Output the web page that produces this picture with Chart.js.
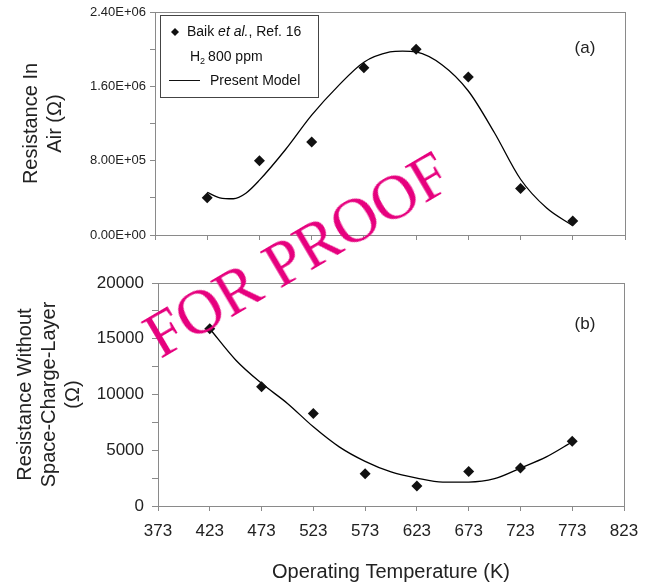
<!DOCTYPE html>
<html>
<head>
<meta charset="utf-8">
<script src="https://cdn.jsdelivr.net/npm/chart.js@4.4.1/dist/chart.umd.min.js"></script>
<style>
  html, body { margin: 0; padding: 0; background: #fff; }
  #wrap { position: relative; width: 656px; height: 588px; overflow: hidden; }
  #topChart { position: absolute; left: 0; top: 0; }
  #bottomChart { position: absolute; left: 0; top: 250px; }
  #stamp {
    position: absolute; left: 161px; top: 307px;
    font-family: 'Liberation Serif', 'Times New Roman', serif;
    font-size: 63px; line-height: 1; color: #e6007e; white-space: nowrap;
    transform-origin: 0 53px; transform: rotate(-30.5deg);
    pointer-events: none;
  }
</style>
</head>
<body>
<div id="wrap">
  <canvas id="topChart" width="656" height="250"></canvas>
  <canvas id="bottomChart" width="656" height="338"></canvas>
  <div id="stamp">FOR PROOF</div>
</div>
<script>
// podaci
const xTicks = [373, 423, 473, 523, 573, 623, 673, 723, 773, 823];
const measuredTemps = [423, 473, 523, 573, 623, 673, 723, 773];
const airMeasured = [4.0e5, 8.0e5, 1.0e6, 1.8e6, 2.0e6, 1.7e6, 5.0e5, 1.5e5];
const airModelTemps = [423, 435, 448, 460, 473, 498, 523, 548, 573, 598, 610, 623, 648, 673, 698, 723, 748, 773];
const airModel = [4.6e5, 4.0e5, 3.9e5, 4.5e5, 5.9e5, 9.2e5, 1.29e6, 1.6e6, 1.86e6, 1.97e6, 1.98e6, 1.97e6, 1.83e6, 1.55e6, 1.1e6, 6.0e5, 2.9e5, 1.0e5];
const bulkMeasured = [15900, 10700, 8300, 2900, 1800, 3100, 3400, 5800];
const bulkModelTemps = [423, 448, 473, 498, 523, 548, 573, 598, 623, 648, 673, 698, 723, 748, 773];
const bulkModel = [15900, 13100, 11000, 9200, 7100, 5300, 4000, 3050, 2500, 2150, 2150, 2450, 3400, 4400, 5750];

const FONT = "'Liberation Sans', Arial, sans-serif";
const AXIS_GRAY = '#8a8a8a';

function sciLabel(v) {
  const parts = v.toExponential(2).split('e');
  const e = parseInt(parts[1], 10);
  const sign = e < 0 ? '-' : '+';
  return parts[0] + 'E' + sign + String(Math.abs(e)).padStart(2, '0');
}

function pairs(xs, ys) {
  return xs.map((x, i) => ({ x: x, y: ys[i] }));
}

// okvir oko podrucja grafa + oznaka panela
const framePlugin = {
  id: 'frame',
  afterDraw(chart, args, opts) {
    const { ctx, chartArea: a } = chart;
    ctx.save();
    ctx.strokeStyle = AXIS_GRAY;
    ctx.lineWidth = 1;
    ctx.strokeRect(a.left + 0.5, a.top + 0.5, a.right - a.left, a.bottom - a.top);
    ctx.fillStyle = '#222';
    ctx.font = '17px ' + FONT;
    ctx.textAlign = 'center';
    ctx.textBaseline = 'middle';
    ctx.fillText(opts.tag, opts.tagX, opts.tagY);
    ctx.restore();
  }
};

// legenda gornjeg grafa
const legendPlugin = {
  id: 'boxLegend',
  afterDraw(chart) {
    const ctx = chart.ctx;
    ctx.save();
    ctx.fillStyle = '#fff';
    ctx.fillRect(160, 15, 158, 82);
    ctx.strokeStyle = '#444';
    ctx.lineWidth = 1;
    ctx.strokeRect(160.5, 15.5, 158, 82);

    ctx.fillStyle = '#111';
    ctx.beginPath();
    ctx.moveTo(175, 28); ctx.lineTo(179, 32); ctx.lineTo(175, 36); ctx.lineTo(171, 32);
    ctx.closePath();
    ctx.fill();

    ctx.textBaseline = 'middle';
    ctx.textAlign = 'left';
    let x = 187;
    ctx.font = '14px ' + FONT;
    ctx.fillText('Baik ', x, 32);
    x += ctx.measureText('Baik ').width;
    ctx.font = 'italic 14px ' + FONT;
    ctx.fillText('et al.', x, 32);
    x += ctx.measureText('et al.').width;
    ctx.font = '14px ' + FONT;
    ctx.fillText(', Ref. 16', x, 32);

    x = 190;
    ctx.fillText('H', x, 57);
    x += ctx.measureText('H').width;
    ctx.font = '9px ' + FONT;
    ctx.fillText('2', x, 62);
    x += ctx.measureText('2').width + 3;
    ctx.font = '14px ' + FONT;
    ctx.fillText('800 ppm', x, 57);

    ctx.strokeStyle = '#111';
    ctx.beginPath();
    ctx.moveTo(169, 80.5); ctx.lineTo(200, 80.5);
    ctx.stroke();
    ctx.fillText('Present Model', 210, 81);
    ctx.restore();
  }
};

function xScale(showLabels, height, title) {
  return {
    type: 'linear',
    min: 373,
    max: 823,
    afterBuildTicks: s => { s.ticks = xTicks.map(v => ({ value: v })); },
    afterFit: s => { s.height = height; s.paddingLeft = 0; s.paddingRight = 0; },
    grid: { display: true, drawOnChartArea: false, drawTicks: true, tickLength: 5, color: AXIS_GRAY },
    border: { display: true, color: AXIS_GRAY },
    ticks: {
      display: showLabels,
      color: '#222',
      padding: 10,
      maxRotation: 0,
      font: { family: FONT, size: 17 }
    },
    title: title
  };
}

// 1. Otpor u zraku (a)
new Chart(document.getElementById('topChart').getContext('2d'), {
  type: 'scatter',
  data: {
    datasets: [
      {
        label: 'Baik et al., Ref. 16',
        data: pairs(measuredTemps, airMeasured),
        pointStyle: 'rectRot',
        pointRadius: 5.5,
        backgroundColor: '#111',
        borderColor: '#111',
        borderWidth: 0,
        showLine: false
      },
      {
        label: 'Present Model',
        data: pairs(airModelTemps, airModel),
        showLine: true,
        pointRadius: 0,
        borderColor: '#000',
        borderWidth: 1.3,
        cubicInterpolationMode: 'monotone',
        fill: false
      }
    ]
  },
  options: {
    responsive: false,
    animation: false,
    layout: { padding: { left: 0, top: 12, right: 31, bottom: 0 } },
    plugins: {
      legend: { display: false },
      tooltip: { enabled: false },
      frame: { tag: '(a)', tagX: 585, tagY: 48 }
    },
    scales: {
      x: xScale(false, 15, { display: false }),
      y: {
        min: 0,
        max: 2.4e6,
        afterBuildTicks: s => {
          const t = [];
          for (let v = 0; v <= 2.4e6 + 1; v += 4e5) t.push({ value: v });
          s.ticks = t;
        },
        afterFit: s => { s.width = 155; s.paddingTop = 0; s.paddingBottom = 0; },
        grid: { display: true, drawOnChartArea: false, drawTicks: true, tickLength: 5, color: AXIS_GRAY },
        border: { display: true, color: AXIS_GRAY },
        ticks: {
          color: '#222',
          padding: 4,
          font: { family: FONT, size: 13 },
          callback: v => (Math.round(v / 4e5) % 2 === 0 ? sciLabel(v) : '')
        },
        title: {
          display: true,
          text: ['Resistance In', 'Air (\u03A9)'],
          color: '#222',
          padding: { top: 19, bottom: 0 },
          font: { family: FONT, size: 20, lineHeight: 1.2 }
        }
      }
    }
  },
  plugins: [framePlugin, legendPlugin]
});

// 2. Otpor bez prostornog naboja (b)
new Chart(document.getElementById('bottomChart').getContext('2d'), {
  type: 'scatter',
  data: {
    datasets: [
      {
        label: 'Baik et al., Ref. 16',
        data: pairs(measuredTemps, bulkMeasured),
        pointStyle: 'rectRot',
        pointRadius: 5.5,
        backgroundColor: '#111',
        borderColor: '#111',
        borderWidth: 0,
        showLine: false
      },
      {
        label: 'Present Model',
        data: pairs(bulkModelTemps, bulkModel),
        showLine: true,
        pointRadius: 0,
        borderColor: '#000',
        borderWidth: 1.3,
        cubicInterpolationMode: 'monotone',
        fill: false
      }
    ]
  },
  options: {
    responsive: false,
    animation: false,
    layout: { padding: { left: 0, top: 33, right: 32, bottom: 0 } },
    plugins: {
      legend: { display: false },
      tooltip: { enabled: false },
      frame: { tag: '(b)', tagX: 585, tagY: 74 }
    },
    scales: {
      x: xScale(true, 82, {
        display: true,
        text: 'Operating Temperature (K)',
        color: '#222',
        padding: { top: 0, bottom: 4 },
        font: { family: FONT, size: 20, lineHeight: 1.2 }
      }),
      y: {
        min: 0,
        max: 20000,
        afterBuildTicks: s => {
          const t = [];
          for (let v = 0; v <= 20000; v += 2500) t.push({ value: v });
          s.ticks = t;
        },
        afterFit: s => { s.width = 158; s.paddingTop = 0; s.paddingBottom = 0; },
        grid: { display: true, drawOnChartArea: false, drawTicks: true, tickLength: 6, color: AXIS_GRAY },
        border: { display: true, color: AXIS_GRAY },
        ticks: {
          color: '#222',
          padding: 8,
          font: { family: FONT, size: 17 },
          callback: v => (v % 5000 === 0 ? String(v) : '')
        },
        title: {
          display: true,
          text: ['Resistance Without', 'Space-Charge-Layer', '(\u03A9)'],
          color: '#222',
          padding: { top: 13, bottom: 0 },
          font: { family: FONT, size: 20, lineHeight: 1.2 }
        }
      }
    }
  },
  plugins: [framePlugin]
});
</script>
</body>
</html>
